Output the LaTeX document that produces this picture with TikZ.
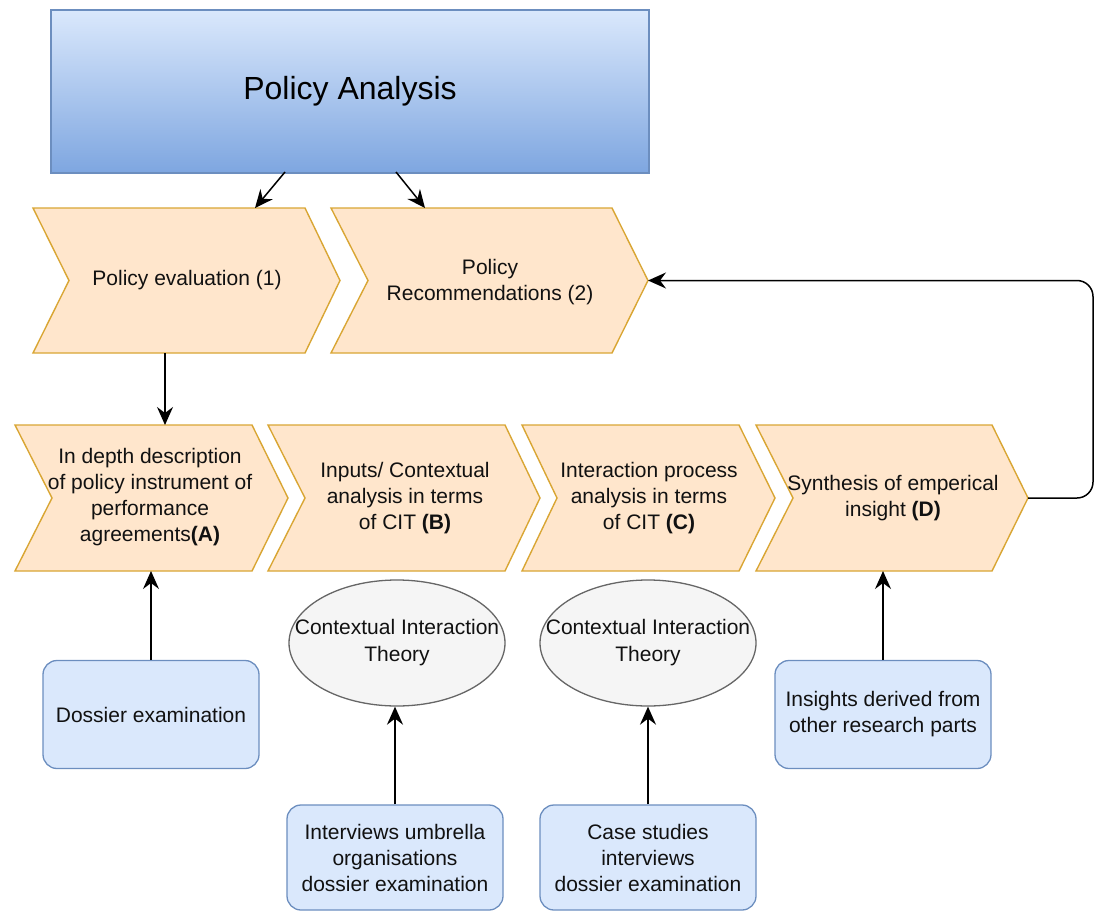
\documentclass[tikz,border=0pt]{standalone}
\usepackage{fontspec}
\setmainfont{Liberation Sans}
\usetikzlibrary{arrows.meta,shapes.geometric}
\definecolor{chevfill}{HTML}{FFE6CC}
\definecolor{chevline}{HTML}{D9A634}
\definecolor{bluefill}{HTML}{DAE8FC}
\definecolor{blueline}{HTML}{6C8EBF}
\definecolor{bluedark}{HTML}{7EA6E0}
\definecolor{ellfill}{HTML}{F5F5F5}
\definecolor{ellline}{HTML}{666666}
\definecolor{txt}{HTML}{111111}
\tikzset{
  chevstyle/.style={fill=chevfill,draw=chevline,line width=1.4pt,line join=miter},
  chevtext/.style={font=\fontsize{21}{26}\selectfont,align=center,text=txt,inner sep=0pt},
  bluebox/.style={rectangle,rounded corners=14pt,fill=bluefill,draw=blueline,line width=1.3pt,
    minimum width=216pt,minimum height=108pt,inner sep=0pt,align=center,text=txt,
    font=\fontsize{21}{26}\selectfont},
  theory/.style={ellipse,fill=ellfill,draw=ellline,line width=1.3pt,minimum width=216pt,
    minimum height=126pt,inner sep=0pt},
  theorytext/.style={inner sep=0pt,align=center,text=txt,font=\fontsize{21}{27}\selectfont},
  conn/.style={line width=1.5pt,draw=black,-{Stealth[length=18pt,width=16pt,inset=6pt]}},
}
\begin{document}
\begin{tikzpicture}[x=1pt,y=-1pt]
\useasboundingbox (0,0) rectangle (1094,912);
% title
\node[rectangle,top color=bluefill,bottom color=bluedark,draw=blueline,line width=1.3pt,
  minimum width=598pt,minimum height=163pt,inner sep=0pt,
  font=\fontsize{32}{38}\selectfont,text=black] (title) at (350,91.5) {Policy Analysis};
% row 1 chevrons
\draw[chevstyle] (33,208) -- (305,208) -- (340,280.5) -- (305,353) -- (33,353) -- (69,280.5) -- cycle;
\node[chevtext] (pe) at (187,280) {Policy evaluation (1)};
\draw[chevstyle] (331,208) -- (612,208) -- (648,280.5) -- (612,353) -- (331,353) -- (368,280.5) -- cycle;
\node[chevtext] (pr) at (490,282) {Policy\\Recommendations (2)};
% row 2 chevrons
\draw[chevstyle] (15,425) -- (252,425) -- (288,498) -- (252,571) -- (15,571) -- (52,498) -- cycle;
\node[chevtext] (ca) at (150,497) {In depth description\\of policy instrument of\\performance\\agreements\textbf{(A)}};
\draw[chevstyle] (268,425) -- (505,425) -- (540,498) -- (505,571) -- (268,571) -- (305,498) -- cycle;
\node[chevtext] (cb) at (405,498) {Inputs/ Contextual\\analysis in terms\\of CIT \textbf{(B)}};
\draw[chevstyle] (522,425) -- (739,425) -- (775,498) -- (739,571) -- (522,571) -- (557,498) -- cycle;
\node[chevtext] (cc) at (649,498) {Interaction process\\analysis in terms\\of CIT \textbf{(C)}};
\draw[chevstyle] (756,425) -- (992,425) -- (1028,498) -- (992,571) -- (756,571) -- (793,498) -- cycle;
\node[chevtext] (cd) at (893,498) {Synthesis of emperical\\insight \textbf{(D)}};
% anchor coordinates on the chevrons
\coordinate (t1) at (285,172);
\coordinate (t2) at (396,172);
\coordinate (pe-top) at (255,208);
\coordinate (pr-top) at (425,208);
\coordinate (pe-bot) at (165,353);
\coordinate (pr-tip) at (648,280.5);
\coordinate (ca-top) at (165,425);
\coordinate (ca-bot) at (151,571);
\coordinate (cd-bot) at (883,571);
\coordinate (cd-tip) at (1028,498);
\coordinate (loop-a) at (1093,498);
\coordinate (loop-b) at (1093,280.5);
% ellipses
\node[theory] (e1) at (397,643) {};
\node[theorytext] (e1t) at (397,643) {Contextual Interaction\\Theory};
\node[theory] (e2) at (648,643) {};
\node[theorytext] (e2t) at (648,643) {Contextual Interaction\\Theory};
% blue boxes
\node[bluebox] (dos) at (151,714.5) {Dossier examination};
\node[bluebox] (ins) at (883,714.5) {Insights derived from\\other research parts};
\node[bluebox,minimum height=105pt] (intv) at (395,857.5) {Interviews umbrella\\organisations\\dossier examination};
\node[bluebox,minimum height=105pt] (case) at (648,857.5) {Case studies\\interviews\\dossier examination};
% connectors
\draw[conn] (t1) -- (pe-top);
\draw[conn] (t2) -- (pr-top);
\draw[conn] (pe-bot) -- (ca-top);
\draw[conn] (dos.north -| ca-bot) -- (ca-bot);
\draw[conn] (intv.north) -- (e1.south -| intv.north);
\draw[conn] (case.north) -- (e2.south);
\draw[conn] (ins.north) -- (cd-bot);
\draw[conn,rounded corners=16pt] (cd-tip) -- (loop-a) -- (loop-b) -- (pr-tip);
\end{tikzpicture}
\end{document}
